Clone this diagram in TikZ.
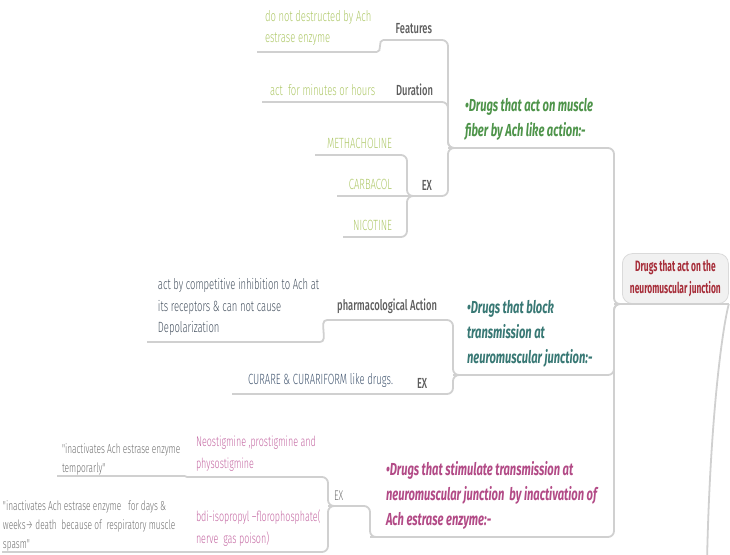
\documentclass[tikz,border=0pt]{standalone}
\usepackage{fontspec}
\setmainfont{Fira Sans}[FakeStretch=0.64]
\newfontfamily\lightfont{Fira Sans Light}[FakeStretch=0.64]
\newfontfamily\medfont{Fira Sans Medium}[FakeStretch=0.64]
\newfontfamily\rootfont{Fira Sans}[FakeStretch=0.56]
\usetikzlibrary{positioning,calc}
\definecolor{linegrey}{RGB}{208,208,208}
\definecolor{rootfill}{RGB}{241,241,241}
\definecolor{rootline}{RGB}{218,218,218}
\definecolor{rootred}{RGB}{166,44,56}
\definecolor{musclegreen}{RGB}{78,148,74}
\definecolor{leafgreen}{RGB}{174,200,104}
\definecolor{blockteal}{RGB}{56,120,116}
\definecolor{leafslate}{RGB}{72,84,98}
\definecolor{curareblue}{RGB}{66,86,112}
\definecolor{stimpink}{RGB}{178,74,134}
\definecolor{leafpink}{RGB}{196,104,162}
\definecolor{taggrey}{RGB}{92,92,92}
\definecolor{notegrey}{RGB}{112,112,112}

\begin{document}
\begin{tikzpicture}[
    x=0.5pt, y=-0.5pt,
    topic/.style={anchor=south west, inner xsep=0pt, inner ysep=3pt, outer sep=0pt},
    span/.style={text width=#1*0.5pt},
    padl/.style={align=flush left, execute at begin node={\leftskip=#1\relax}},
    padr/.style={align=flush right, execute at begin node={\rightskip=#1\relax}},
    leaf/.style={topic, font=\lightfont\fontsize{7.4}{10.8}\selectfont},
    pinkleaf/.style={topic, text=leafpink, font=\lightfont\fontsize{7}{10.8}\selectfont},
    tag/.style={topic, font=\medfont\fontsize{7.3}{9}\selectfont, text=taggrey},
    note/.style={topic, inner ysep=0.5pt, font=\lightfont\fontsize{6.5}{9.5}\selectfont, text=notegrey},
    branch/.style={topic, inner ysep=4pt, font=\bfseries\itshape\fontsize{8.7}{12.3}\selectfont},
    rootbox/.style={rectangle, rounded corners=5pt, draw=rootline, fill=rootfill, anchor=south west,
        minimum width=53pt, minimum height=25pt, align=center, text=rootred,
        font=\rootfont\bfseries\fontsize{7.5}{11}\selectfont},
    uline/.style={draw=linegrey, line width=0.9pt},
    link/.style={uline, rounded corners=3pt}
]
    \useasboundingbox (0,0) rectangle (730,554);

    % Root
    \node[rootbox] (junction) at (622,304) {Drugs that act on the\\neuromuscular junction};
    \coordinate (hub) at ([xshift=-4pt]junction.south west);
    \coordinate (offpage) at (707,562);

    % Drugs that act on muscle fiber
    \node[branch, span=159, padl=8.5pt, text=musclegreen] (muscle) at (448,148) {\textbullet Drugs that act on muscle\\fiber by Ach like action:-};
    \node[tag, span=55, padr=3pt] (features) at (383,40) {Features};
    \node[leaf, span=120, padl=4pt, text=leafgreen] (featnote) at (257,52) {do not destructed by Ach\\estrase enzyme};
    \node[tag, span=53, padr=2.5pt] (duration) at (385,102) {Duration};
    \node[leaf, span=123, padl=4pt, text=leafgreen] (durnote) at (262,102) {act~ for minutes or hours};
    \node[tag, span=33, padr=4pt] (exmuscle) at (407,196) {EX};
    \node[leaf, span=84, padr=3.5pt, text=leafgreen] (methacholine) at (315,155) {METHACHOLINE};
    \node[leaf, span=62, padr=3.5pt, text=leafgreen] (carbacol) at (337,196) {CARBACOL};
    \node[leaf, span=57, padr=4pt, text=leafgreen] (nicotine) at (343,237) {NICOTINE};

    % Drugs that block transmission
    \node[branch, span=153, padl=7pt, text=blockteal] (block) at (453,375) {\textbullet Drugs that block\\transmission at\\neuromuscular junction:-};
    \node[tag, span=115, padr=2.5pt] (action) at (327,320) {pharmacological Action};
    \node[leaf, span=173, padl=5.5pt, text=leafslate] (actionnote) at (147,342) {act by competitive inhibition to Ach at\\its receptors \& can not cause\\Depolarization};
    \node[tag, span=44, padl=7.5pt] (exblock) at (402,394) {EX};
    \node[leaf, span=170, padr=4.5pt, text=curareblue] (curare) at (232,394) {CURARE \& CURARIFORM like drugs.};

    % Drugs that stimulate transmission
    \node[branch, span=236, padl=8pt, text=stimpink] (stimulate) at (370,537) {\textbullet Drugs that stimulate transmission at\\neuromuscular junction~ by inactivation of\\Ach estrase enzyme:-};
    \node[topic, span=24, padl=3pt, text=notegrey, font=\lightfont\fontsize{7}{9}\selectfont] (exstim) at (328,506) {EX};
    \node[pinkleaf, span=135, padl=4.5pt] (neostig) at (187,477) {Neostigmine ,prostigmine and\\physostigmine};
    \node[pinkleaf, span=135, padl=4.5pt] (bdi) at (187,552) {bdi-isopropyl –florophosphate(\\nerve~ gas poison)};
    \node[note, span=128, padl=2.5pt] (neonote) at (57,476) {"inactivates Ach estrase enzyme\\temporarly"};
    \node[note, span=178, padl=0.5pt] (bdinote) at (2,552) {"inactivates Ach estrase enzyme~~ for days \&\\weeks→ death~ because of~ respiratory muscle\\spasm"};

    % Underlines
    \foreach \n in {muscle,features,featnote,duration,durnote,exmuscle,methacholine,carbacol,nicotine,
                    block,action,actionnote,exblock,curare,
                    stimulate,exstim,neostig,bdi,neonote,bdinote}
        \draw[uline] (\n.south west) -- (\n.south east);
    \draw[uline] (hub) -- (junction.south east);

    % Connectors
    \draw[link] (featnote.south east) to[out=0,in=180] (features.south west);
    \draw[link] (features.south east) -| (muscle.south west) -- ++(8,0);
    \draw[link] (durnote.south east) -- (duration.south west);
    \draw[link] (duration.south east) -| (muscle.south west) -- ++(8,0);
    \draw[link] (methacholine.south east) -| (exmuscle.south west) -- ++(8,0);
    \draw[link] (carbacol.south east) -- (exmuscle.south west);
    \draw[link] (nicotine.south east) -| (exmuscle.south west) -- ++(8,0);
    \draw[link] (exmuscle.south east) -| (muscle.south west) -- ++(8,0);
    \draw[link] (muscle.south east) -| (hub) -- ++(8,0);

    \draw[link] (actionnote.south east) to[out=0,in=180] (action.south west);
    \draw[link] (action.south east) -| (block.south west) -- ++(8,0);
    \draw[link] (curare.south east) -- (exblock.south west);
    \draw[link] (exblock.south east) -| (block.south west) -- ++(8,0);
    \draw[link] (block.south east) -| (hub) -- ++(8,0);

    \draw[link] (neonote.south east) to[out=0,in=180] (neostig.south west);
    \draw[link] (bdinote.south east) to[out=0,in=180] (bdi.south west);
    \draw[link] (neostig.south east) -| (exstim.south west) -- ++(8,0);
    \draw[link] (bdi.south east) -| (exstim.south west) -- ++(8,0);
    \draw[link] (exstim.south east) -| (stimulate.south west) -- ++(8,0);
    \draw[link] (stimulate.south east) -| (hub) -- ++(8,0);

    \draw[link] (junction.south east) .. controls (722,330) and (710,420) .. (offpage);
\end{tikzpicture}
\end{document}
